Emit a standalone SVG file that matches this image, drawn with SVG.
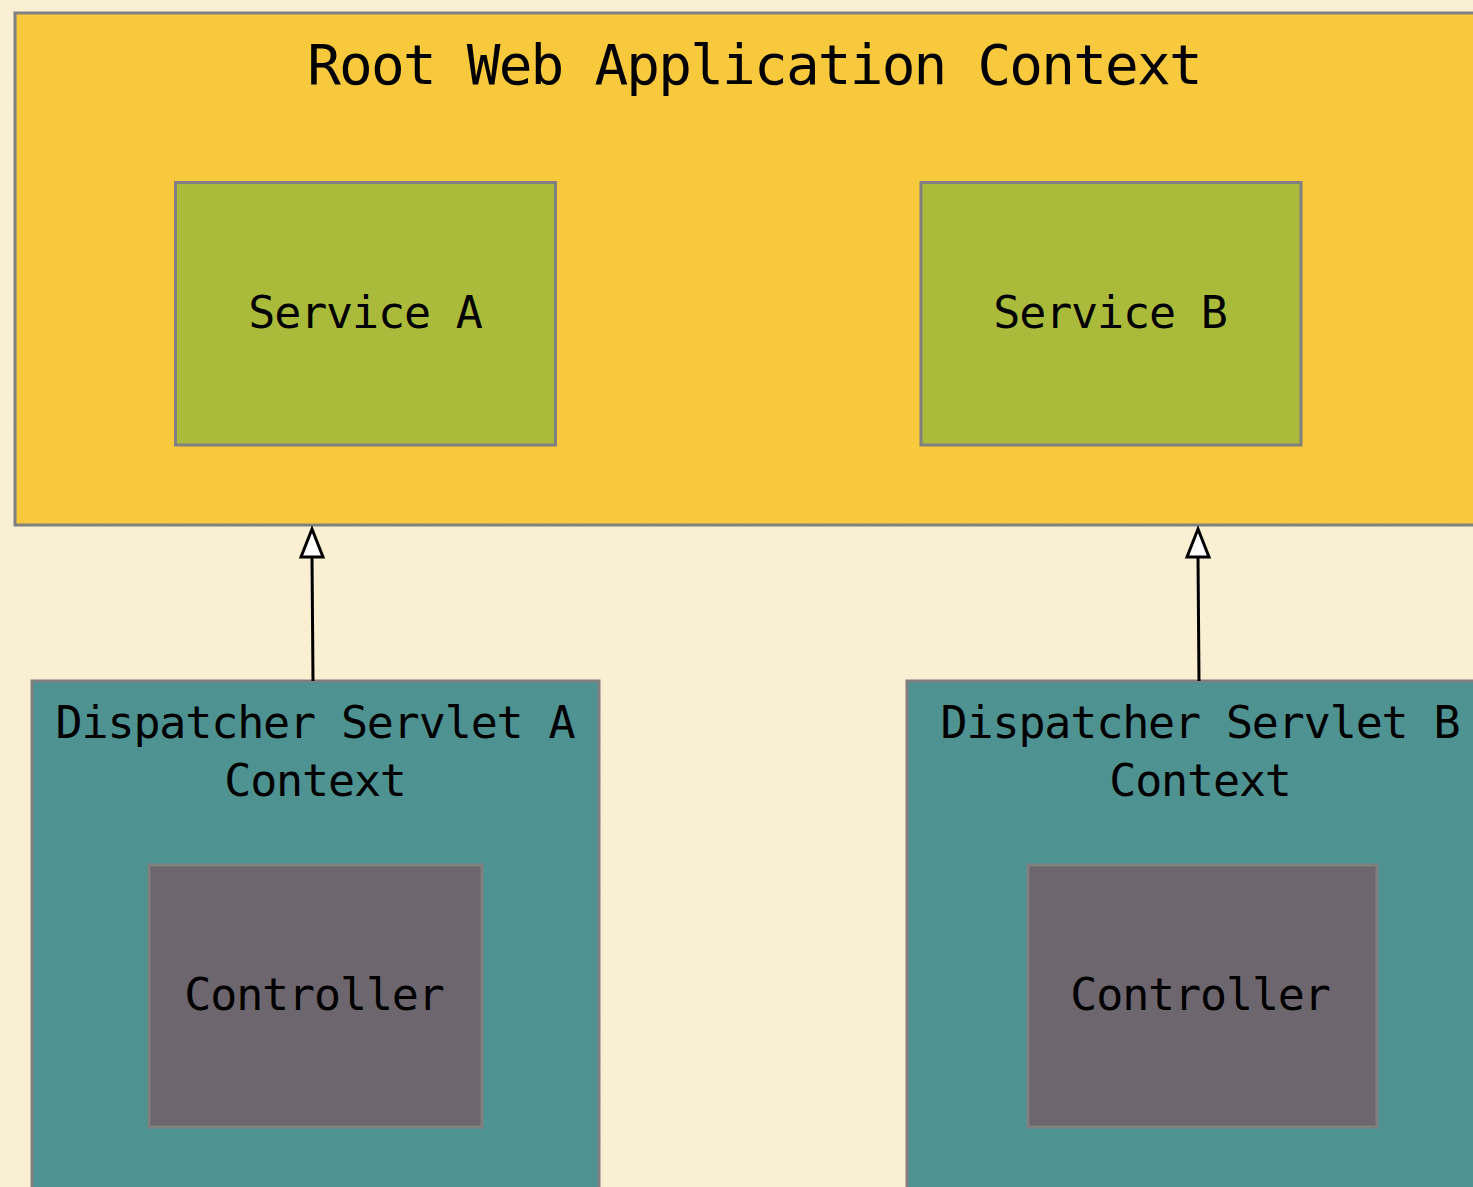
<svg xmlns="http://www.w3.org/2000/svg" width="1473" height="1187" viewBox="0 0 1473 1187">
  <defs>
    <style>
      .box { stroke: #808080; stroke-width: 3; }
      .root { fill: #F8C93C; }
      .service { fill: #AABB3B; }
      .servlet { fill: #4F9292; }
      .controller { fill: #6D666F; }
      text { font-family: "DejaVu Sans Mono", "Liberation Mono", monospace; fill: #000; text-anchor: middle; }
      .title { font-size: 56px; letter-spacing: -1.8px; }
      .label { font-size: 45px; letter-spacing: -1.15px; }
      .link { stroke: #000; stroke-width: 3; fill: none; }
      .head { fill: #fff; stroke: #000; stroke-width: 3; }
    </style>
    <filter id="paper" x="0" y="0" width="100%" height="100%">
      <feTurbulence type="fractalNoise" baseFrequency="0.8" numOctaves="2" seed="3" result="n"/>
      <feColorMatrix in="n" type="matrix" values="0 0 0 0 0.85  0 0 0 0 0.78  0 0 0 0 0.6  0 0 0 0.18 0"/>
    </filter>
  </defs>

  <!-- paper background -->
  <rect width="1473" height="1187" fill="#FAF0D3"/>
  <rect width="1473" height="1187" filter="url(#paper)"/>

  <g id="root-context">
    <rect class="box root" x="15" y="13" width="1480" height="512"/>
    <text class="title" x="754" y="84">Root Web Application Context</text>
  </g>

  <g id="service-a">
    <rect class="box service" x="175.5" y="182.5" width="380" height="262.5"/>
    <text class="label" x="365" y="328">Service A</text>
  </g>

  <g id="service-b">
    <rect class="box service" x="921" y="182.5" width="380" height="262.5"/>
    <text class="label" x="1110" y="328">Service B</text>
  </g>

  <g id="servlet-a">
    <rect class="box servlet" x="32" y="681" width="567" height="520"/>
    <text class="label" x="315" y="738">Dispatcher Servlet A</text>
    <text class="label" x="315" y="796">Context</text>
  </g>

  <g id="controller-a">
    <rect class="box controller" x="149" y="865" width="333" height="262"/>
    <text class="label" x="314" y="1010">Controller</text>
  </g>

  <g id="servlet-b">
    <rect class="box servlet" x="907" y="681" width="590" height="520"/>
    <text class="label" x="1200" y="738">Dispatcher Servlet B</text>
    <text class="label" x="1200" y="796">Context</text>
  </g>

  <g id="controller-b">
    <rect class="box controller" x="1028" y="865" width="349" height="262"/>
    <text class="label" x="1200" y="1010">Controller</text>
  </g>

  <g id="connectors">
    <path class="link" d="M313 681 L312 557"/>
    <path class="head" d="M312 529 L323 557 L301 557 Z"/>
    <path class="link" d="M1199 681 L1198 557"/>
    <path class="head" d="M1198 529 L1209 557 L1187 557 Z"/>
  </g>
</svg>
